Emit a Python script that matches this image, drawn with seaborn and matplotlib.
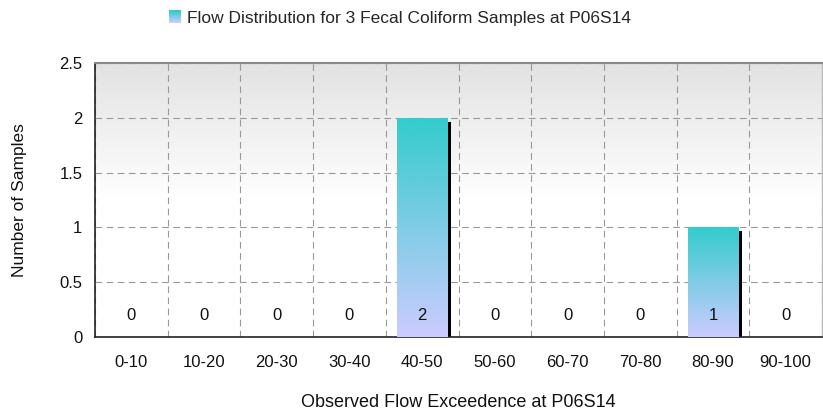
import numpy as np
import pandas as pd
import matplotlib
matplotlib.use("Agg")
import matplotlib.pyplot as plt
import seaborn as sns
from matplotlib.transforms import ScaledTranslation
from matplotlib.patches import Rectangle
from matplotlib.legend_handler import HandlerBase
from matplotlib.colors import LinearSegmentedColormap

categories = ["0-10", "10-20", "20-30", "30-40", "40-50", "50-60", "60-70", "70-80", "80-90", "90-100"]
values = [0, 0, 0, 0, 2, 0, 0, 0, 1, 0]
yticks = [0, 0.5, 1, 1.5, 2, 2.5]
ytick_labels = ["0", "0.5", "1", "1.5", "2", "2.5"]
legend_label = "Flow Distribution for 3 Fecal Coliform Samples at P06S14"
xlabel = "Observed Flow Exceedence at P06S14"
ylabel = "Number of Samples"

TOP = "#33CCCC"
BOTTOM = "#CCCCFF"
cmap = LinearSegmentedColormap.from_list("bar", [BOTTOM, TOP])
bgmap = LinearSegmentedColormap.from_list("bg", ["#FFFFFF", "#FFFFFF", "#E2E2E2"])

sns.set_theme(style="white")
plt.rcParams["font.family"] = ["Liberation Sans", "DejaVu Sans"]

df = pd.DataFrame({"cat": categories, "val": values})

fig = plt.figure(figsize=(8.23, 4.13), dpi=100)
ax = fig.add_axes([95 / 823, 76 / 413, 727 / 823, 274 / 413])

# shadow bars
sns.barplot(data=df, x="cat", y="val", color="black", width=0.69, ax=ax,
            saturation=1, zorder=2, errorbar=None)
n_shadow = len(ax.patches)
offset = ScaledTranslation(3.5 / 100, -4 / 100, fig.dpi_scale_trans)
for p in ax.patches[:n_shadow]:
    p.set_transform(ax.transData + offset)
    p.set_linewidth(0)
    p.set_clip_box(ax.bbox)

# main bars
sns.barplot(data=df, x="cat", y="val", color=BOTTOM, width=0.69, ax=ax,
            saturation=1, zorder=3, errorbar=None)
main = ax.patches[n_shadow:]

xlim = (-0.5, len(categories) - 0.5)
ylim = (0, 2.5)

grad = np.linspace(0, 1, 256).reshape(-1, 1)
for p in main:
    p.set_linewidth(0)
    h = p.get_height()
    if h <= 0:
        continue
    x0 = p.get_x()
    w = p.get_width()
    im = ax.imshow(grad, extent=[x0, x0 + w, 0, h], origin="lower", cmap=cmap,
                   aspect="auto", zorder=4, interpolation="bicubic")
    im.set_clip_path(p)

# background gradient
ax.imshow(grad, extent=[xlim[0], xlim[1], ylim[0], ylim[1]], origin="lower",
          cmap=bgmap, aspect="auto", zorder=0)

ax.set_xlim(*xlim)
ax.set_ylim(*ylim)

for i, v in enumerate(values):
    ax.text(i, 0.2, f"{v}", ha="center", va="center", fontsize=12,
            color="#111111", zorder=6)

ax.set_yticks(yticks)
ax.set_yticklabels(ytick_labels)
ax.set_xticks(range(len(categories)))
ax.set_xticklabels(categories)
ax.set_xticks(np.arange(-0.5, len(categories)), minor=True)
ax.tick_params(axis="x", which="major", length=0, pad=13, labelsize=12, colors="#111111")
ax.tick_params(axis="x", which="minor", length=5, width=0.8, direction="out", color="#333333")
ax.tick_params(axis="y", which="major", length=5, width=0.8, direction="out", labelsize=12,
               colors="#111111", pad=4)
ax.tick_params(axis="y", which="major", color="#333333")
ax.grid(False)
ax.yaxis.grid(True, which="major", linestyle=(0, (6, 4)), color="#999999", linewidth=0.8, zorder=1)
ax.xaxis.grid(True, which="minor", linestyle=(0, (6, 4)), color="#999999", linewidth=0.8, zorder=1)
ax.set_axisbelow(True)

for s in ["left", "bottom"]:
    ax.spines[s].set_color("#222222")
    ax.spines[s].set_linewidth(1.2)
ax.spines["top"].set_color("#888888")
ax.spines["top"].set_linewidth(1.5)
ax.spines["right"].set_color("#BBBBBB")
ax.spines["right"].set_linewidth(1)

ax.set_xlabel(xlabel, fontsize=13, labelpad=17, color="#111111")
ax.set_ylabel(ylabel, fontsize=12.5, labelpad=23, color="#111111")


class GradHandler(HandlerBase):
    def create_artists(self, legend, orig_handle, xdescent, ydescent, width, height, fontsize, trans):
        arts = []
        n = 12
        size = height * 1.0
        x0 = -xdescent + width - size
        y0 = -ydescent - (size - height) / 2
        for k in range(n):
            c = cmap(k / (n - 1))
            r = Rectangle((x0, y0 + size * k / n), size, size / n + 0.2,
                          facecolor=c, edgecolor="none", transform=trans)
            arts.append(r)
        return arts


handle = Rectangle((0, 0), 1, 1)
fig.legend([handle], [legend_label], handler_map={Rectangle: GradHandler()},
           loc="center", bbox_to_anchor=(0.486, 0.956), frameon=False,
           fontsize=12.5, handlelength=0.7, handletextpad=0.3, borderpad=0)

fig.savefig("out.png", dpi=100)
